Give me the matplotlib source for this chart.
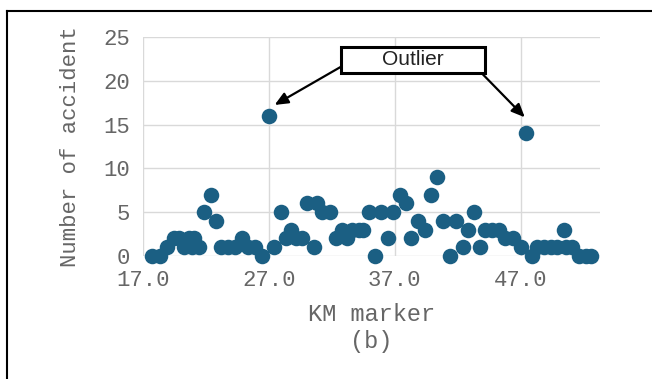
import matplotlib
matplotlib.use("Agg")
import matplotlib.pyplot as plt
from matplotlib.lines import Line2D
from matplotlib.patches import Rectangle

# Data
km = [17.74, 18.40, 18.93, 19.46, 19.86, 20.26, 20.66, 21.05, 20.92, 21.45,
      21.85, 22.45, 22.85, 23.25, 23.75, 24.30, 24.90, 25.35, 25.90, 26.45,
      27.01, 27.41, 27.94, 28.34, 28.74, 29.13, 29.66, 30.06, 30.59, 30.85,
      31.25, 31.85, 32.31, 32.84, 33.24, 33.64, 34.17, 34.48, 35.00, 35.41,
      35.94, 36.50, 36.87, 37.40, 37.90, 38.30, 38.85, 39.40, 39.90, 40.40,
      40.85, 41.37, 41.90, 42.40, 42.80, 43.30, 43.75, 44.20, 44.75, 45.30,
      45.80, 46.40, 47.00, 47.45, 47.94, 48.34, 48.87, 49.40, 49.93, 50.46,
      50.59, 51.12, 51.65, 52.18, 52.60]
accidents = [0, 0, 1, 2, 2, 1, 2, 2, 1, 1,
             5, 7, 4, 1, 1, 1, 2, 1, 1, 0,
             16, 1, 5, 2, 3, 2, 2, 6, 1, 6,
             5, 5, 2, 3, 2, 3, 3, 3, 5, 0,
             5, 2, 5, 7, 6, 2, 4, 3, 7, 9,
             4, 0, 4, 1, 3, 5, 1, 3, 3, 3,
             2, 2, 1, 14, 0, 1, 1, 1, 1, 3,
             1, 1, 0, 0, 0]
xticks = [17.0, 27.0, 37.0, 47.0]
xtick_labels = ["17.0", "27.0", "37.0", "47.0"]
yticks = [0, 5, 10, 15, 20, 25]

fig = plt.figure(figsize=(6.52, 3.79), dpi=100)
ax = fig.add_axes([0.219, 0.3245, 0.701, 0.578])

ax.scatter(km, accidents, s=125, color="#1b5f83", zorder=3, clip_on=False,
           linewidths=0)

ax.set_xlim(17, 53.3)
ax.set_ylim(0, 25)
ax.set_xticks(xticks)
ax.set_xticklabels(xtick_labels)
ax.set_yticks(yticks)
ax.grid(True, color="#d9d9d9", linewidth=1)
ax.set_axisbelow(True)
for s in ax.spines.values():
    s.set_visible(False)
ax.tick_params(length=0, labelsize=16, labelcolor="#666666")
ax.tick_params(axis="x", pad=10)
ax.tick_params(axis="y", pad=9)
for lab in ax.get_xticklabels() + ax.get_yticklabels():
    lab.set_family("Liberation Mono")

ax.set_xlabel("KM marker\n(b)", family="Liberation Mono", fontsize=17,
              color="#666666", labelpad=9, linespacing=1.2)
ax.set_ylabel("Number of accident", family="Liberation Mono", fontsize=16,
              color="#666666", labelpad=16)

# Outlier annotation box
ax.add_patch(Rectangle((32.74, 20.89), 44.19 - 32.74, 23.86 - 20.89,
                       fc="white", ec="black", lw=2.2, zorder=5, clip_on=False))
ax.text(38.46, 22.37, "Outlier", ha="center", va="center", fontsize=15,
        family="Liberation Sans", color="#222222", zorder=6)
arrow = dict(arrowstyle="-|>,head_width=0.35,head_length=0.8", color="black",
             lw=1.6, shrinkA=0, shrinkB=0)
ax.annotate("", xy=(27.47, 17.24), xytext=(32.74, 21.6), arrowprops=arrow,
            annotation_clip=False, zorder=4)
ax.annotate("", xy=(47.34, 15.83), xytext=(43.9, 20.89), arrowprops=arrow,
            annotation_clip=False, zorder=4)

# Outer frame (left and top edges)
fig.add_artist(Line2D([7 / 652, 7 / 652], [0, 1 - 11 / 379], color="black",
                      lw=1.5, transform=fig.transFigure))
fig.add_artist(Line2D([7 / 652, 1], [1 - 11 / 379, 1 - 11 / 379], color="black",
                      lw=1.5, transform=fig.transFigure))

fig.savefig("out.png", dpi=100)
